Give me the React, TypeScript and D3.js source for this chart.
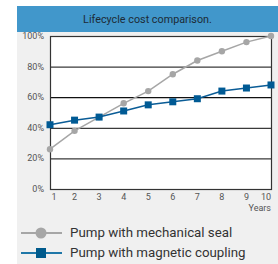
import { useEffect, useRef } from 'react';
import * as d3 from 'd3';

const years = [1, 2, 3, 4, 5, 6, 7, 8, 9, 10];
const mechanicalSeal = [26, 38, 47, 56, 64, 75, 84, 90, 96, 100];
const magneticCoupling = [42, 45, 47, 51, 55, 57, 59, 64, 66, 68];
const yTicks = [0, 20, 40, 60, 80, 100];
const seriesNames = ['Pump with mechanical seal', 'Pump with magnetic coupling'];

export default function App() {
  const svgRef = useRef<SVGSVGElement>(null);

  useEffect(() => {
    if (!svgRef.current) return;
    const width = 278;
    const height = 264;
    const font = 'Roboto, "Noto Sans", sans-serif';

    const svg = d3.select(svgRef.current);
    svg.selectAll('*').remove();

    // panel background + title bar
    svg.append('rect').attr('width', width).attr('height', height).attr('fill', '#fff');
    svg.append('rect').attr('x', 17).attr('y', 6).attr('width', width - 17).attr('height', height - 6).attr('fill', '#f0f0f0');
    svg.append('rect').attr('x', 17).attr('y', 6).attr('width', width - 17).attr('height', 26).attr('fill', '#4197cb');
    svg
      .append('text')
      .attr('x', (17 + width) / 2)
      .attr('y', 23)
      .attr('text-anchor', 'middle')
      .style('font-family', font)
      .style('font-size', '10.8px')
      .attr('fill', '#1d2b36')
      .text('Lifecycle cost comparison.');

    const x = d3.scaleLinear().domain([1, 10]).range([50, 271]);
    const y = d3.scaleLinear().domain([0, 100]).range([189, 36]);

    // plot area
    svg.append('rect').attr('x', 50).attr('y', 36).attr('width', 221).attr('height', 153).attr('fill', '#fff');

    svg
      .append('g')
      .selectAll('line')
      .data(yTicks)
      .join('line')
      .attr('x1', 50)
      .attr('x2', 271)
      .attr('y1', (d) => y(d) + 0.5)
      .attr('y2', (d) => y(d) + 0.5)
      .attr('stroke', (d) => (d === 60 ? '#111' : '#3a3a3a'))
      .attr('stroke-width', 1.2);

    svg
      .append('rect')
      .attr('x', 50.5)
      .attr('y', 36.5)
      .attr('width', 221)
      .attr('height', 153)
      .attr('fill', 'none')
      .attr('stroke', '#333')
      .attr('stroke-width', 1.2);

    // y labels
    svg
      .append('g')
      .selectAll('text')
      .data(yTicks)
      .join('text')
      .attr('x', 44)
      .attr('y', (d) => y(d) + 3)
      .attr('text-anchor', 'end')
      .style('font-family', font)
      .style('font-size', '9px')
      .attr('fill', '#555')
      .text((d) => `${d}%`);

    // x labels
    svg
      .append('g')
      .selectAll('text')
      .data(years)
      .join('text')
      .attr('x', (d) => (d === 1 ? x(d) + 4 : d === 10 ? x(d) - 5 : x(d)))
      .attr('y', 200)
      .attr('text-anchor', 'middle')
      .style('font-family', font)
      .style('font-size', '9px')
      .attr('fill', '#555')
      .text((d) => d);

    svg
      .append('text')
      .attr('x', 271)
      .attr('y', 211)
      .attr('text-anchor', 'end')
      .style('font-family', font)
      .style('font-size', '9px')
      .attr('fill', '#555')
      .text('Years');

    const line = d3
      .line<number>()
      .x((_, i) => x(years[i]))
      .y((d) => y(d));

    // mechanical seal
    svg.append('path').attr('d', line(mechanicalSeal)).attr('fill', 'none').attr('stroke', '#a6a6a6').attr('stroke-width', 1.5);
    svg
      .append('g')
      .selectAll('circle')
      .data(mechanicalSeal)
      .join('circle')
      .attr('cx', (_, i) => x(years[i]))
      .attr('cy', (d) => y(d))
      .attr('r', 3.2)
      .attr('fill', '#a6a6a6');

    // magnetic coupling
    svg.append('path').attr('d', line(magneticCoupling)).attr('fill', 'none').attr('stroke', '#0a5c96').attr('stroke-width', 1.5);
    svg
      .append('g')
      .selectAll('rect')
      .data(magneticCoupling)
      .join('rect')
      .attr('x', (_, i) => x(years[i]) - 3.5)
      .attr('y', (d) => y(d) - 3.5)
      .attr('width', 7)
      .attr('height', 7)
      .attr('fill', '#005a94');

    // legend
    const legend = svg.append('g');
    legend.append('line').attr('x1', 21).attr('x2', 62).attr('y1', 233).attr('y2', 233).attr('stroke', '#a6a6a6').attr('stroke-width', 2);
    legend.append('circle').attr('cx', 41).attr('cy', 233).attr('r', 5.5).attr('fill', '#a6a6a6');
    legend.append('line').attr('x1', 21).attr('x2', 62).attr('y1', 253).attr('y2', 253).attr('stroke', '#1f77a8').attr('stroke-width', 2);
    legend.append('rect').attr('x', 36).attr('y', 248).attr('width', 10).attr('height', 10).attr('fill', '#005a8c');
    legend
      .selectAll('text')
      .data(seriesNames)
      .join('text')
      .attr('x', 70)
      .attr('y', (_, i) => 237 + i * 20)
      .style('font-family', font)
      .style('font-size', '13.3px')
      .attr('fill', '#333')
      .text((d) => d);
  }, []);

  return <svg ref={svgRef} width={278} height={264} style={{ position: 'absolute', left: 0, top: 0 }} />;
}
